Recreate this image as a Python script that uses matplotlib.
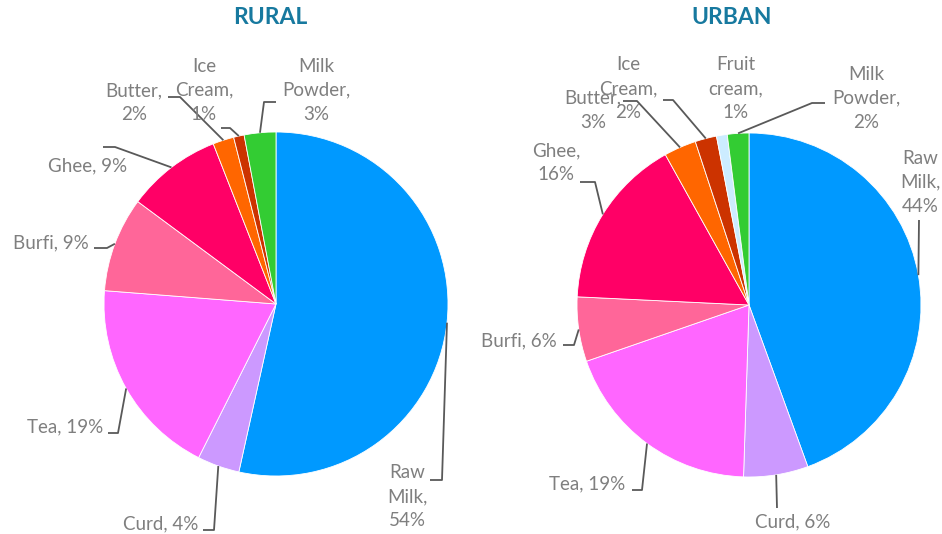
import numpy as np
import matplotlib.pyplot as plt

# data
rural_labels = ["Raw\nMilk", "Curd", "Tea", "Burfi", "Ghee", "Butter", "Ice\nCream", "Milk\nPowder"]
rural_values = [54, 4, 19, 9, 9, 2, 1, 3]
rural_colors = ["#0099FF", "#CC99FF", "#FF66FF", "#FF6699", "#FF0066", "#FF6600", "#CC3300", "#33CC33"]

urban_labels = ["Raw\nMilk", "Curd", "Tea", "Burfi", "Ghee", "Butter", "Ice\nCream", "Fruit\ncream", "Milk\nPowder"]
urban_values = [44, 6, 19, 6, 16, 3, 2, 1, 2]
urban_colors = ["#0099FF", "#CC99FF", "#FF66FF", "#FF6699", "#FF0066", "#FF6600", "#CC3300", "#CCECFF", "#33CC33"]

W, H = 942, 534
FONT = "Lato"
GREY = "#7F7F7F"

# label layout in image pixels: (text_x, text_y, ha, multiline?, elbow, end)
rural_layout = [
    (407, 497, "center", True, (442, 480), (430, 480)),
    (198, 524, "right", False, (214, 530), (203, 530)),
    (103, 427, "right", False, (118, 433), (108, 433)),
    (89, 243, "right", False, (107, 248), (94, 248)),
    (88, 166, "center", False, (115, 147), (103, 147)),
    (134, 103, "center", True, (180, 97), (168, 97)),
    (204, 90, "center", True, (230, 128), (221, 128)),
    (316, 90, "center", True, (264, 102), (276, 102)),
]
urban_layout = [
    (920, 182, "center", True, (919, 220), (919, 220)),
    (793, 522, "center", False, (777, 508), (777, 508)),
    (625, 484, "right", False, (642, 490), (632, 490)),
    (557, 341, "right", False, (574, 345), (563, 345)),
    (556, 163, "center", True, (595, 182), (580, 182)),
    (593, 110, "center", True, (637, 101), (623, 101)),
    (628, 89, "center", True, (673, 100), (663, 100)),
    (736, 89, "center", True, None, None),
    (866, 98, "center", True, (812, 103), (825, 103)),
]

fig = plt.figure(figsize=(W / 100, H / 100), dpi=100)
ax = fig.add_axes([0, 0, 1, 1])


def draw_pie(values, colors, labels, layout, cx, cy, r, title, tx):
    wedges, _ = ax.pie(values, colors=colors, startangle=90, counterclock=False,
                       center=(cx, H - cy), radius=r, frame=True,
                       wedgeprops=dict(edgecolor="white", linewidth=0.6))
    for w, lab, v, lay in zip(wedges, labels, values, layout):
        x, y, ha, multi, elbow, end = lay
        if "\n" in lab:
            txt = f"{lab},\n{v}%"
        elif multi:
            txt = f"{lab},\n{v}%"
        else:
            txt = f"{lab}, {v}%"
        ax.text(x, H - y, txt, ha=ha, va="center", fontsize=13.5, color=GREY,
                family=FONT, linespacing=1.5)
        if elbow is not None:
            mid = np.deg2rad((w.theta1 + w.theta2) / 2)
            sx = cx + r * np.cos(mid)
            sy = (H - cy) + r * np.sin(mid)
            ax.plot([sx, elbow[0], end[0]], [sy, H - elbow[1], H - end[1]],
                    color="#595959", lw=1.3, solid_capstyle="butt")
    ax.text(tx, H - 18, title, ha="center", va="center", fontsize=16.5,
            fontweight="bold", color="#17799F", family=FONT)


draw_pie(rural_values, rural_colors, rural_labels, rural_layout, 276, 304, 172, "RURAL", 270)
draw_pie(urban_values, urban_colors, urban_labels, urban_layout, 749, 305, 172, "URBAN", 732)

ax.set_xlim(0, W)
ax.set_ylim(0, H)
ax.set_aspect("equal")
ax.axis("off")

# slide number peeking in at the corner
ax.text(920, H - 550, "21", ha="left", va="center", fontsize=22, color="#1AA0DC", family=FONT)

fig.savefig("out.png", dpi=100)
